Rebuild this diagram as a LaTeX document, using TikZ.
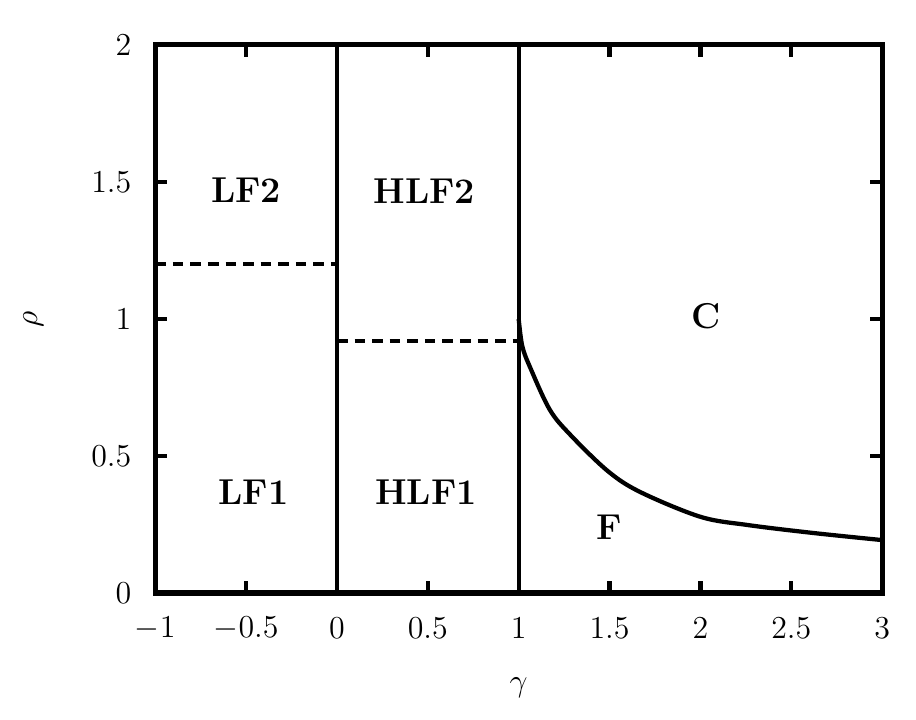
\documentclass[tikz,border=0pt]{standalone}
\begin{document}
\begin{tikzpicture}[x=2.399cm,y=3.617cm,
  frame/.style={line width=1.9pt,line cap=rect},
  bound/.style={line width=1.6pt},
  dashb/.style={line width=1.5pt,dash pattern=on 4pt off 2.6pt},
  tickm/.style={line width=1.6pt},
  region/.style={font=\fontsize{13.5}{16}\selectfont\bfseries},
  ticklab/.style={font=\fontsize{12}{14}\selectfont}]
\useasboundingbox (-1.854,-0.4635) rectangle (3.186,2.164);
% ticks
\foreach \x in {-0.5,0,0.5,1,1.5,2,2.5} {
  \draw[tickm] (\x,0) -- ++(0,0.044);
  \draw[tickm] (\x,2) -- ++(0,-0.044);
}
\foreach \y in {0.5,1,1.5} {
  \draw[tickm] (-1,\y) -- ++(0.066,0);
  \draw[tickm] (3,\y) -- ++(-0.066,0);
}
% tick labels
\foreach \x/\l in {-1/$-1$,-0.5/$-0.5$,0/$0$,0.5/$0.5$,1/$1$,1.5/$1.5$,2/$2$,2.5/$2.5$,3/$3$}
  \node[ticklab] (xl\x) at (\x,-0.128) {\l};
\foreach \y/\l in {0/$0$,0.5/$0.5$,1/$1$,1.5/$1.5$,2/$2$}
  \node[ticklab,anchor=east] (yl\y) at (-1.08,\y) {\l};
\node[ticklab] (xlab) at (1,-0.347) {$\gamma$};
\node[ticklab,rotate=90] (ylab) at (-1.67,1) {$\rho$};
% phase boundaries
\coordinate (a0) at (0,0); \coordinate (a1) at (0,2);
\coordinate (b0) at (1,0); \coordinate (b1) at (1,2);
\draw[bound] (a0) -- (a1);
\draw[bound] (b0) -- (b1);
\coordinate (d1s) at (-1,1.2); \coordinate (d1e) at (0,1.2);
\coordinate (d2s) at (0,0.92); \coordinate (d2e) at (1,0.92);
\draw[dashb] (d1s) -- (d1e);
\draw[dashb] (d2s) -- (d2e);
\draw[bound,line join=round] plot[smooth,tension=0.55] coordinates {
 (1,1) (1.02,0.9) (1.065,0.82) (1.17,0.67) (1.28,0.58) (1.49,0.445)
 (1.67,0.368) (2.0,0.278) (2.26,0.248) (2.62,0.219) (3,0.193)};
% frame
\draw[frame] (-1,0) rectangle (3,2);
% region labels
\node[region] (lf2) at (-0.5,1.47) {LF2};
\node[region] (hlf2) at (0.48,1.465) {HLF2};
\node[region] (c) at (2.03,1.01) {C};
\node[region] (lf1) at (-0.46,0.367) {LF1};
\node[region] (hlf1) at (0.49,0.367) {HLF1};
\node[region] (f) at (1.5,0.24) {F};
\end{tikzpicture}
\end{document}
